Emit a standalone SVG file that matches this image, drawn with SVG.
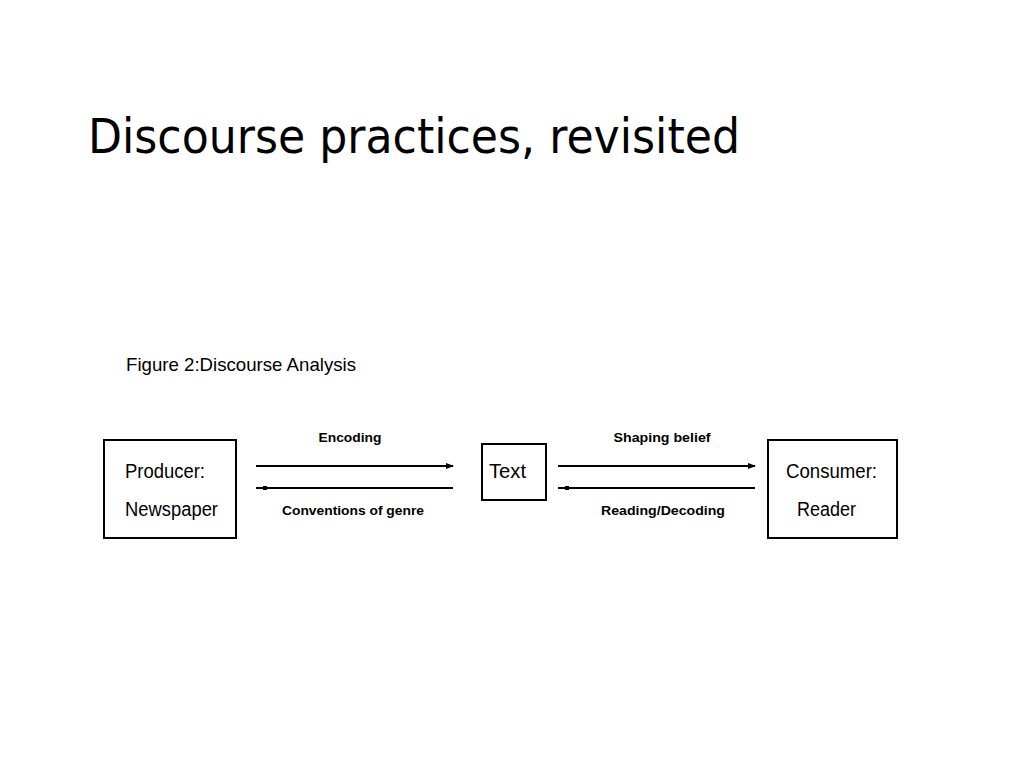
<svg xmlns="http://www.w3.org/2000/svg" width="1024" height="768" viewBox="0 0 1024 768">
<style>
.title{font-family:"DejaVu Sans","Liberation Sans",sans-serif;font-size:48px;fill:#000}
.fig{font-family:"Liberation Sans",Arial,sans-serif;font-size:19px;fill:#000}
.box{fill:#fff;stroke:#000;stroke-width:2}
.lbl{font-family:"Liberation Sans",Arial,sans-serif;font-size:20px;fill:#000}
.al{font-family:"Liberation Sans",Arial,sans-serif;font-size:13px;font-weight:bold;fill:#000;text-anchor:middle}
.ln{stroke:#000;stroke-width:2;fill:none}
</style>
<defs>
<marker id="ah" markerWidth="8" markerHeight="6" refX="7" refY="3" orient="auto" markerUnits="userSpaceOnUse">
<path d="M0,0 L8,3 L0,6 Z" fill="#000"/>
</marker>
</defs>
<rect width="1024" height="768" fill="#fff"/>
<text class="title" x="88" y="153" textLength="652" lengthAdjust="spacingAndGlyphs">Discourse practices, revisited</text>
<text class="fig" x="126" y="371" textLength="230" lengthAdjust="spacingAndGlyphs">Figure 2:Discourse Analysis</text>
<g id="producer">
<rect class="box" x="104" y="440" width="132" height="98"/>
<text class="lbl" x="125" y="478" textLength="80" lengthAdjust="spacingAndGlyphs">Producer:</text>
<text class="lbl" x="125" y="516" textLength="93" lengthAdjust="spacingAndGlyphs">Newspaper</text>
</g>
<g id="text">
<rect class="box" x="482" y="444" width="64" height="56"/>
<text class="lbl" x="489" y="478" textLength="37" lengthAdjust="spacingAndGlyphs">Text</text>
</g>
<g id="consumer">
<rect class="box" x="768" y="440" width="129" height="98"/>
<text class="lbl" x="786" y="478" textLength="91" lengthAdjust="spacingAndGlyphs">Consumer:</text>
<text class="lbl" x="797" y="516" textLength="59" lengthAdjust="spacingAndGlyphs">Reader</text>
</g>
<g id="connectors">
<line class="ln" x1="256" y1="466" x2="453" y2="466" marker-end="url(#ah)"/>
<line class="ln" x1="453" y1="488" x2="256" y2="488"/>
<rect x="263" y="486" width="4" height="4" fill="#000"/>
<line class="ln" x1="558" y1="466" x2="755" y2="466" marker-end="url(#ah)"/>
<line class="ln" x1="755" y1="488" x2="558" y2="488"/>
<rect x="565" y="486" width="4" height="4" fill="#000"/>
<text class="al" x="350" y="442" textLength="63" lengthAdjust="spacingAndGlyphs">Encoding</text>
<text class="al" x="353" y="515" textLength="142" lengthAdjust="spacingAndGlyphs">Conventions of genre</text>
<text class="al" x="662" y="442" textLength="97" lengthAdjust="spacingAndGlyphs">Shaping belief</text>
<text class="al" x="663" y="515" textLength="124" lengthAdjust="spacingAndGlyphs">Reading/Decoding</text>
</g>
</svg>
